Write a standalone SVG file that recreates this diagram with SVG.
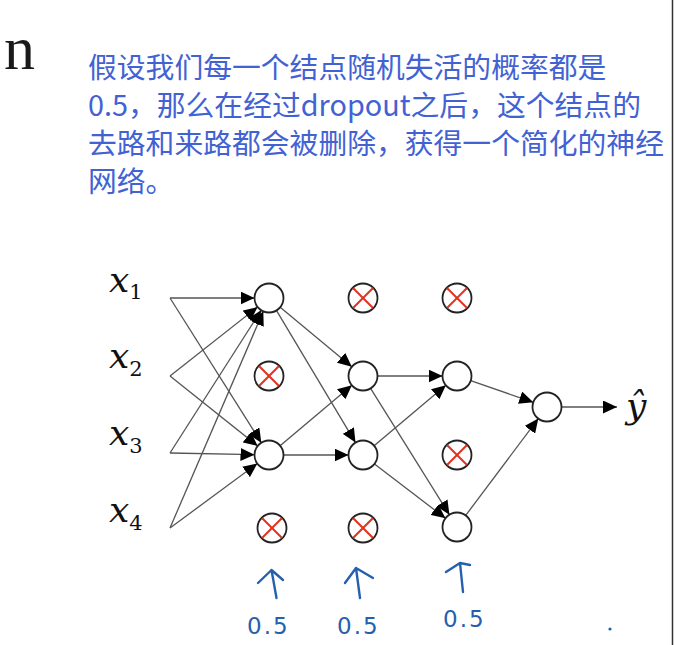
<svg xmlns="http://www.w3.org/2000/svg" width="674" height="645" viewBox="0 0 674 645">
<defs>
<style>
.cap{font-family:"Noto Sans CJK SC","Noto Sans",sans-serif;font-size:28.8px;fill:#4262d4}
.var{font-family:"DejaVu Serif","Liberation Serif",serif;font-style:italic;font-size:36px;fill:#111}
.edge{stroke:#555;stroke-width:1.3;fill:none;marker-end:url(#ah)}
.node{fill:#fff;stroke:#222;stroke-width:1.8}
.x{stroke:#e0321e;stroke-width:2;stroke-linecap:round}
.hand{stroke:#2560b0;stroke-width:2.4;fill:none;stroke-linecap:round;stroke-linejoin:round}
.hl{font-family:"DejaVu Sans",sans-serif;font-size:23px;fill:#2560b0;letter-spacing:2px}
</style>
<marker id="ah" markerUnits="userSpaceOnUse" markerWidth="15" markerHeight="13" refX="14" refY="6.5" orient="auto">
<path d="M0,0 L14,6.5 L0,13 z" fill="#000"/>
</marker>
<g id="drop">
<circle class="node" r="14.5"/>
<line class="x" x1="-9.5" y1="-9.5" x2="9.5" y2="9.5"/>
<line class="x" x1="-9.5" y1="9.5" x2="9.5" y2="-9.5"/>
</g>
</defs>
<rect width="674" height="645" fill="#fff"/>
<line x1="672.5" y1="0" x2="672.5" y2="645" stroke="#333" stroke-width="1.5"/>
<text x="4" y="69" font-family="Liberation Serif, serif" font-size="62" fill="#1a1a1a">n</text>

<g id="caption" class="cap">
<text x="88" y="78">假设我们每一个结点随机失活的概率都是</text>
<text x="88" y="116">0.5，那么在经过dropout之后，这个结点的</text>
<text x="88" y="154">去路和来路都会被删除，获得一个简化的神经</text>
<text x="88" y="192">网络。</text>
</g>

<g id="connectors">
<line class="edge" x1="170" y1="298" x2="254.5" y2="298"/>
<line class="edge" x1="170" y1="376" x2="257.6" y2="307"/>
<line class="edge" x1="170" y1="453" x2="261.2" y2="310.2"/>
<line class="edge" x1="170" y1="528" x2="263.3" y2="311.3"/>
<line class="edge" x1="170" y1="298" x2="261.3" y2="442.7"/>
<line class="edge" x1="170" y1="376" x2="257.7" y2="446"/>
<line class="edge" x1="170" y1="453" x2="254.5" y2="454.7"/>
<line class="edge" x1="170" y1="528" x2="257.3" y2="463.6"/>
<line class="edge" x1="280.2" y1="307.3" x2="351.8" y2="366.7"/>
<line class="edge" x1="276.4" y1="310.4" x2="355.5" y2="442.6"/>
<line class="edge" x1="280.1" y1="445.7" x2="351.9" y2="385.3"/>
<line class="edge" x1="283.5" y1="455" x2="348.5" y2="455"/>
<line class="edge" x1="377.5" y1="376" x2="442.5" y2="376"/>
<line class="edge" x1="370.6" y1="388.3" x2="449.4" y2="514.7"/>
<line class="edge" x1="374.1" y1="445.7" x2="445.9" y2="385.3"/>
<line class="edge" x1="374.5" y1="463.9" x2="445.5" y2="518.3"/>
<line class="edge" x1="470.7" y1="380.7" x2="533.3" y2="402.3"/>
<line class="edge" x1="465.7" y1="515.4" x2="538.3" y2="418.6"/>
<line class="edge" x1="561.5" y1="407" x2="617" y2="407"/>
</g>

<g id="x1"><text class="var" x="109" y="292">x<tspan font-size="21" dy="7" font-style="normal">1</tspan></text></g>
<g id="x2"><text class="var" x="109" y="368">x<tspan font-size="21" dy="8" font-style="normal">2</tspan></text></g>
<g id="x3"><text class="var" x="109" y="445">x<tspan font-size="21" dy="8" font-style="normal">3</tspan></text></g>
<g id="x4"><text class="var" x="109" y="522">x<tspan font-size="21" dy="8" font-style="normal">4</tspan></text></g>

<g id="h1a"><circle class="node" cx="269" cy="298" r="14.5"/></g>
<g id="h1b"><use href="#drop" x="269" y="376"/></g>
<g id="h1c"><circle class="node" cx="269" cy="455" r="14.5"/></g>
<g id="h1d"><use href="#drop" x="272" y="528"/></g>

<g id="h2a"><use href="#drop" x="363" y="298"/></g>
<g id="h2b"><circle class="node" cx="363" cy="376" r="14.5"/></g>
<g id="h2c"><circle class="node" cx="363" cy="455" r="14.5"/></g>
<g id="h2d"><use href="#drop" x="363" y="528"/></g>

<g id="h3a"><use href="#drop" x="457" y="298"/></g>
<g id="h3b"><circle class="node" cx="457" cy="376" r="14.5"/></g>
<g id="h3c"><use href="#drop" x="457" y="455"/></g>
<g id="h3d"><circle class="node" cx="457" cy="527" r="14.5"/></g>

<g id="out"><circle class="node" cx="547" cy="407" r="14.5"/></g>
<g id="yhat"><text class="var" x="626" y="418" font-size="36">ŷ</text></g>

<g id="annotations">
<path class="hand" d="M276.5,598 L271.5,570 M258,583 L271.5,570 L283,580"/>
<path class="hand" d="M360,598 L356,568 M345,583 L356,568 L373,578"/>
<path class="hand" d="M463,592 L460,563 M446,572 L460,563 L470,565"/>
<text class="hl" x="247" y="634">0.5</text>
<text class="hl" x="337" y="634">0.5</text>
<text class="hl" x="443" y="627">0.5</text>
<circle cx="610" cy="629" r="1.6" fill="#2560b0"/>
</g>
</svg>
